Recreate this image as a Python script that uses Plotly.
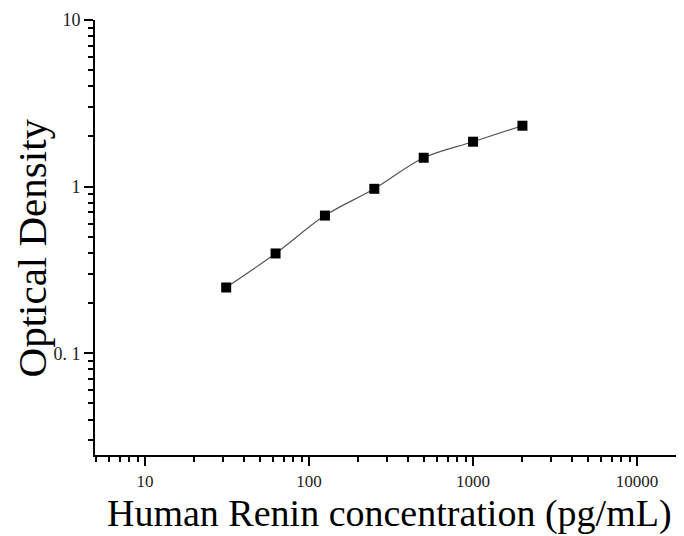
import plotly.graph_objects as go

concentration = [31.25, 62.5, 125, 250, 500, 1000, 2000]
optical_density = [0.248, 0.397, 0.67, 0.97, 1.49, 1.86, 2.32]

y_tickvals = [0.1, 1, 10]
y_ticktext = ["0. 1", "1", "10"]
x_tickvals = [10, 100, 1000, 10000]
x_ticktext = ["10", "100", "1000", "10000"]

x_title = "Human Renin concentration (pg/mL)"
y_title = "Optical Density"

x_minor = [m * 10 ** e for e in range(0, 5) for m in range(2, 10) if 4.9 < m * 10 ** e < 19000]
y_minor = [m * 10.0 ** e for e in range(-2, 1) for m in range(2, 10) if 0.024 < m * 10.0 ** e < 10]

fig = go.Figure()
fig.add_trace(go.Scatter(
    x=concentration, y=optical_density,
    mode="lines+markers",
    line=dict(color="#555555", width=1.2, shape="spline", smoothing=1.0),
    marker=dict(symbol="square", size=10, color="black"),
    showlegend=False,
))

serif = "Liberation Serif, Times New Roman, serif"
# page body has an 8px default margin, so the figure is offset by 8px
fig.update_layout(
    width=676, height=528,
    margin=dict(l=87, r=1, t=12, b=81),
    paper_bgcolor="white", plot_bgcolor="white",
    font=dict(family=serif, color="black"),
    annotations=[
        dict(text=x_title, xref="paper", yref="paper", x=0.5, y=-0.135,
             xanchor="center", yanchor="middle", showarrow=False, borderpad=0,
             font=dict(size=38, family=serif, color="black")),
        dict(text=y_title, xref="paper", yref="paper", x=-0.108, y=0.476,
             xanchor="center", yanchor="middle", showarrow=False, textangle=-90,
             font=dict(size=41, family=serif, color="black")),
    ],
)
fig.update_xaxes(
    type="log", range=[0.695, 4.28], automargin=False,
    showgrid=False, zeroline=False,
    showline=True, linecolor="black", linewidth=2,
    ticks="outside", ticklen=9, tickwidth=1.5, tickcolor="black",
    tickvals=x_tickvals, ticktext=x_ticktext, ticklabelstandoff=1,
    tickfont=dict(size=17, family=serif, color="#222"),
    minor=dict(tickvals=x_minor, ticks="outside", ticklen=5, tickwidth=1.5, tickcolor="black", showgrid=False),
)
fig.update_yaxes(
    type="log", range=[-1.611, 1.0], automargin=False,
    showgrid=False, zeroline=False,
    showline=True, linecolor="black", linewidth=2,
    ticks="outside", ticklen=9, tickwidth=1.5, tickcolor="black",
    tickvals=y_tickvals, ticktext=y_ticktext,
    tickfont=dict(size=18, family=serif, color="#222"),
    minor=dict(tickvals=y_minor, ticks="outside", ticklen=5, tickwidth=1.5, tickcolor="black", showgrid=False),
)

fig.write_html("out.html")
